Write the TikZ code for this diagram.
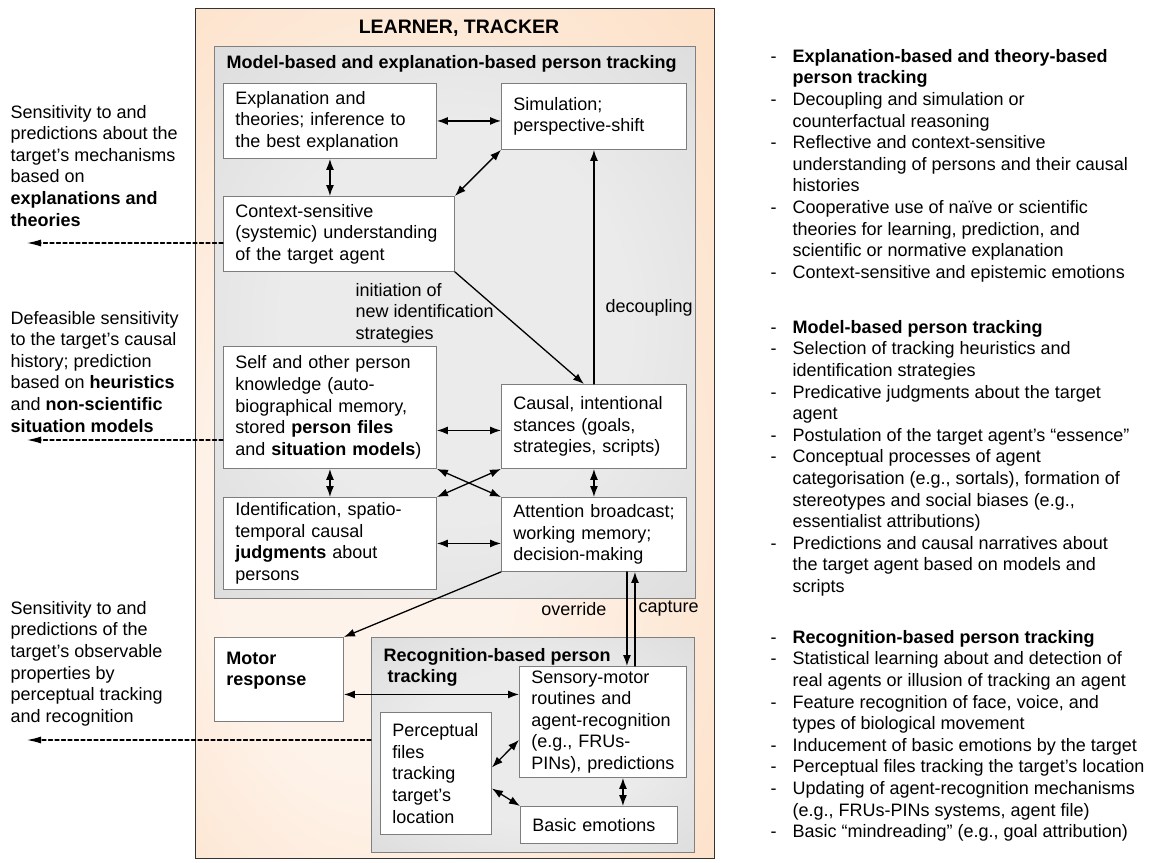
\documentclass[tikz,border=0pt]{standalone}
\usepackage{fontspec}
\setmainfont{Liberation Sans}
\usetikzlibrary{arrows.meta}
\hyphenpenalty=10000
\exhyphenpenalty=10000
\definecolor{peach}{RGB}{252,216,184}
\definecolor{peachlight}{RGB}{254,243,234}
\definecolor{grayedge}{RGB}{210,210,210}
\definecolor{graylight}{RGB}{235,235,235}
\definecolor{boxline}{RGB}{125,125,125}
\pgfdeclareradialshading{peachglow}{\pgfpoint{-12bp}{-8bp}}{color(0bp)=(peachlight); color(14bp)=(peachlight); color(50bp)=(peach)}
\pgfdeclareradialshading{grayglow}{\pgfpoint{0bp}{0bp}}{color(0bp)=(graylight); color(18bp)=(graylight); color(50bp)=(grayedge)}

\begin{document}
\begin{tikzpicture}[x=1pt, y=-1pt, line cap=round, font=\fontsize{18}{21.6}\selectfont,
    >={Latex[length=11pt,width=8pt]}, line width=1.3pt,
    cbox/.style={draw=boxline, fill=white, line width=0.9pt, anchor=north west, align=left, inner xsep=12pt, inner ysep=3pt},
    gbox/.style={draw=gray, shading=grayglow, line width=0.9pt, anchor=north west, inner sep=0pt},
    txt/.style={anchor=north west, align=left, inner sep=0pt},
    list/.style={anchor=north west, inner sep=0pt},
    hint/.style={dash pattern=on 4pt off 2.5pt, line width=1.1pt, -{Latex[length=14pt,width=7pt]}}]
    % 사람 추적의 세 수준
    \useasboundingbox (0,0) rectangle (1151,862);

    \node[draw=black!80, shading=peachglow, line width=0.9pt, anchor=north west, inner sep=0pt,
        minimum width=519pt, minimum height=850pt] (lrn) at (195,8) {};
    \node (ttl) at (459,28) {\fontsize{19.5}{22}\selectfont\bfseries LEARNER, TRACKER};

    \node[gbox, minimum width=481pt, minimum height=552pt] (mbox) at (214,46) {};
    \node[txt, anchor=west] (mttl) at (226,64) {\bfseries Model-based and explanation-based person tracking};
    \node[gbox, minimum width=323pt, minimum height=215pt] (rbox) at (371,637) {};
    \node[txt] (rttl) at (383,647.5) {\textbf{Recognition-based person}\\\hspace{4pt}\textbf{tracking}};

    \node[cbox, text width=189pt, minimum height=75pt] (expl) at (223,83) {Explanation and\\theories; inference to\\the best explanation};
    \node[cbox, text width=161pt, minimum height=66pt] (simu) at (501,83) {Simulation;\\perspective-shift};
    \node[cbox, text width=207pt, minimum height=75pt] (ctx) at (223,196) {Context-sensitive\\\mbox{(systemic) understanding}\\of the target agent};
    \node[cbox, text width=189pt, minimum height=122pt] (self) at (223,346) {Self and other person\\knowledge (auto-\\biographical memory,\\stored \textbf{person files}\\\mbox{and \textbf{situation models})}};
    \node[cbox, text width=161pt, minimum height=84pt] (caus) at (501,384) {Causal, intentional\\stances (goals,\\strategies, scripts)};
    \node[cbox, text width=189pt, minimum height=92pt] (ident) at (223,497) {Identification, spatio-\\temporal causal\\\textbf{judgments} about\\persons};
    \node[cbox, text width=161pt, minimum height=74pt] (attn) at (501,497) {\mbox{Attention broadcast;}\\working memory;\\decision-making};
    \node[cbox, text width=105pt, minimum height=84pt] (motor) at (214,637) {\textbf{Motor}\\\textbf{response}\\~};
    \node[cbox, text width=143pt, minimum height=111pt] (sens) at (519,666) {Sensory-motor\\routines and\\\mbox{agent-recognition}\\(e.g., FRUs-\\\mbox{PINs), predictions}};
    \node[cbox, text width=87pt, minimum height=122pt] (perc) at (380,712) {Perceptual\\files\\tracking\\target’s\\location};
    \node[cbox, text width=133pt, minimum height=37pt] (emo) at (520,806) {Basic emotions};

    \node[txt] (lab1) at (355,282.5) {initiation of\\new identification\\strategies};
    \node[txt, anchor=west] (lab2) at (605,308) {decoupling};
    \node[txt, anchor=east] (lab3) at (607,609) {override};
    \node[txt, anchor=west] (lab4) at (638,609) {capture};

    \draw[<->] (expl.east) -- (expl.east -| simu.west);
    \draw[<->] (expl.south) -- (expl.south |- ctx.north);
    \draw[<->] (simu.south west) -- (ctx.north east);
    \draw[->] (ctx.south east) -- ([xshift=-10pt]caus.north);
    \draw[->] (caus.north) -- (simu.south);
    \coordinate (cw) at ([yshift=-4pt]caus.west);
    \draw[<->] (cw -| self.east) -- (cw);
    \draw[<->] (self.south) -- (self.south |- ident.north);
    \draw[<->] (caus.south) -- (caus.south |- attn.north);
    \draw[<->] (self.south east) -- (attn.north west);
    \draw[<->] (caus.south west) -- (ident.north east);
    \draw[<->] (ident.east) -- (ident.east -| attn.west);
    \draw[->] (attn.south west) -- (motor.north east);
    \coordinate (ov) at ([xshift=33pt]attn.south);
    \coordinate (cp) at ([xshift=41pt]attn.south);
    \draw[->] (ov) -- (ov |- sens.north);
    \draw[->] (cp |- sens.north) -- (cp);
    \coordinate (ms) at ([yshift=-15pt]motor.east);
    \draw[<->] (ms) -- (ms -| sens.west);
    \draw[<->] ([yshift=6pt]perc.east) -- ([yshift=-18pt]sens.west);
    \draw[<->] ([yshift=-15pt]perc.east) -- (emo.north west);
    \coordinate (se) at ([xshift=20pt]sens.south);
    \draw[<->] (se) -- (se |- emo.north);

    \node[txt] (out1t) at (10,104.5) {Sensitivity to and\\predictions about the\\target’s mechanisms\\based on\\\textbf{explanations and}\\\textbf{theories}};
    \node[txt] (out2t) at (10,310.5) {Defeasible sensitivity\\to the target’s causal\\history; prediction\\based on \textbf{heuristics}\\and \textbf{non-scientific}\\\textbf{situation models}};
    \node[txt] (out3t) at (10,600.5) {Sensitivity to and\\predictions of the\\target’s observable\\properties by\\perceptual tracking\\and recognition};
    \coordinate (o1) at (27,243);
    \coordinate (o2) at (27,440);
    \coordinate (o3) at (27,740);
    \draw[hint] (o1 -| ctx.west) -- (o1);
    \draw[hint] (o2 -| self.west) -- (o2);
    \draw[hint] (o3 -| rbox.west) -- (o3);

    \node[list] (lsta) at (770,46.5) {\begin{tabular}{@{}p{22pt}@{}l@{}}
        -&\textbf{Explanation-based and theory-based}\\
        &\textbf{person tracking}\\
        -&Decoupling and simulation or\\
        &counterfactual reasoning\\
        -&Reflective and context-sensitive\\
        &understanding of persons and their causal\\
        &histories\\
        -&Cooperative use of naïve or scientific\\
        &theories for learning, prediction, and\\
        &scientific or normative explanation\\
        -&Context-sensitive and epistemic emotions
    \end{tabular}};
    \node[list] (lstb) at (770,317.5) {\begin{tabular}{@{}p{22pt}@{}l@{}}
        -&\textbf{Model-based person tracking}\\
        -&Selection of tracking heuristics and\\
        &identification strategies\\
        -&Predicative judgments about the target\\
        &agent\\
        -&Postulation of the target agent’s “essence”\\
        -&Conceptual processes of agent\\
        &categorisation (e.g., sortals), formation of\\
        &stereotypes and social biases (e.g.,\\
        &essentialist attributions)\\
        -&Predictions and causal narratives about\\
        &the target agent based on models and\\
        &scripts
    \end{tabular}};
    \node[list] (lstc) at (770,627.5) {\begin{tabular}{@{}p{22pt}@{}l@{}}
        -&\textbf{Recognition-based person tracking}\\
        -&Statistical learning about and detection of\\
        &real agents or illusion of tracking an agent\\
        -&Feature recognition of face, voice, and\\
        &types of biological movement\\
        -&Inducement of basic emotions by the target\\
        -&Perceptual files tracking the target’s location\\
        -&Updating of agent-recognition mechanisms\\
        &(e.g., FRUs-PINs systems, agent file)\\
        -&Basic “mindreading” (e.g., goal attribution)
    \end{tabular}};
\end{tikzpicture}
\end{document}
